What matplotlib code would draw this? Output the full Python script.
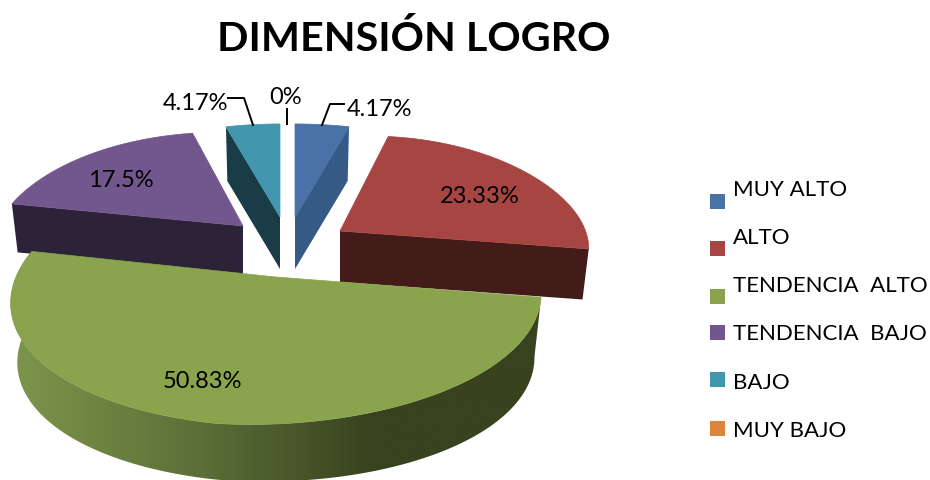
import matplotlib

matplotlib.use("Agg")

import matplotlib.pyplot as plt
import numpy as np
from matplotlib.colors import LinearSegmentedColormap
from matplotlib.patches import Polygon, Rectangle


TITLE = "DIMENSIÓN LOGRO"
CATEGORIES = ["MUY ALTO", "ALTO", "TENDENCIA  ALTO", "TENDENCIA  BAJO", "BAJO", "MUY BAJO"]
VALUES = [4.17, 23.33, 50.83, 17.5, 4.17, 0]
VALUE_LABELS = ["4.17%", "23.33%", "50.83%", "17.5%", "4.17%", "0%"]

TOP_COLORS = ["#4A71A8", "#A64541", "#8AA44E", "#71578D", "#4297AF", "#DD863B"]
SIDE_COLORS = ["#355A85", "#431B19", "#38421E", "#2D2338", "#1A3C47", "#DD863B"]

# Pie layout in pixels: exploded apex of each slice, and its horizontal and
# vertical radius. The perspective terms make the far side look smaller.
APEX_X = [295, 340, 276, 243, 280, 287]
APEX_Y = [218, 232, 278, 227, 218, 218]
RADIUS_X = [269, 240, 260, 251, 269, 269]
RADIUS_Y = [107, 112, 127, 110, 107, 107]
DEPTH = [52, 51, 60, 48, 52, 52]
PERSPECTIVE_X = [0.3, 0.3, 0.2, 0.3, 0.3, 0.3]
PERSPECTIVE_Y = 0.15
BOTTOM_SCALE = 0.975
# Rim correction, outward in the middle of a slice. The green slice instead
# pulls in on its right half only, less so on the lower rim.
RIM_BULGE = [0, 0.07, 0, 0.035, 0, 0]
GREEN_SQUEEZE_TOP = 0.04
GREEN_SQUEEZE_BOTTOM = 0.02

LABEL_X = [379, 480, 202, 121, 195, 286]
LABEL_Y = [109, 197, 382, 181, 104, 98]
LEGEND_TEXT_Y = [190, 238, 286, 334, 383, 431]
LEGEND_BOX_Y = [195, 242, 290, 326, 373, 422]

EDGES = np.radians(np.concatenate([[0], np.cumsum(VALUES)]) * 3.6)


def rim_factor(i, angles, bottom):
    t = (angles - EDGES[i]) / max(EDGES[i + 1] - EDGES[i], 1e-9)
    factor = 1 + RIM_BULGE[i] * np.sin(np.pi * t)
    if i == 2:
        squeeze = GREEN_SQUEEZE_BOTTOM if bottom else GREEN_SQUEEZE_TOP
        factor = factor - squeeze * np.sin(2 * np.pi * np.clip(t, 0, 0.5))
    return factor


def project(i, angles, bottom=False):
    """Screen position of rim points of slice i; angles clockwise from north."""
    factor = rim_factor(i, angles, bottom)
    u = np.sin(angles) * factor
    v = np.cos(angles) * factor
    scale = BOTTOM_SCALE if bottom else 1.0
    x = APEX_X[i] + scale * RADIUS_X[i] * u / (1 + PERSPECTIVE_X[i] * v)
    y = APEX_Y[i] - scale * RADIUS_Y[i] * v / (1 + PERSPECTIVE_Y * v)
    if bottom:
        y = y + DEPTH[i]
    return np.column_stack([x, y])


def slice_angles(i, n=120):
    return np.linspace(EDGES[i], EDGES[i + 1], n)


def draw_cut_face(ax, i, angle):
    top = project(i, np.array([angle]))[0]
    low = project(i, np.array([angle]), bottom=True)[0]
    apex = (APEX_X[i], APEX_Y[i])
    apex_low = (APEX_X[i], APEX_Y[i] + DEPTH[i])
    ax.add_patch(Polygon([apex, top, low, apex_low], closed=True, fc=SIDE_COLORS[i], ec="none"))


def draw_top(ax, i):
    rim = project(i, slice_angles(i))
    pts = np.vstack([[APEX_X[i], APEX_Y[i]], rim])
    ax.add_patch(Polygon(pts, closed=True, fc=TOP_COLORS[i], ec=TOP_COLORS[i], lw=0.5))


def draw_green_wall(ax, i):
    angles = slice_angles(i, 300)
    upper = project(i, angles)
    lower = project(i, angles, bottom=True)
    wall = Polygon(np.vstack([upper, lower[::-1]]), closed=True, fc="none", ec="none")
    ax.add_patch(wall)
    # Left to right shading of the outer wall.
    cmap = LinearSegmentedColormap.from_list(
        "wall",
        [(0.0, "#7D964B"), (0.17, "#6E8341"), (0.36, "#5A6E37"), (0.55, "#465428"), (0.68, "#38421E"), (1.0, "#38421E")],
    )
    grad = np.linspace(0, 1, 256).reshape(1, -1)
    img = ax.imshow(grad, cmap=cmap, extent=(10, 545, 490, 250), aspect="auto")
    img.set_clip_path(wall)


def main():
    fig = plt.figure(figsize=(9.3, 4.81), dpi=100)
    ax = fig.add_axes([0, 0, 1, 1])

    # Back slices first, the big green one goes over them.
    draw_cut_face(ax, 3, EDGES[3])
    draw_top(ax, 3)
    draw_cut_face(ax, 1, EDGES[2])
    draw_top(ax, 1)
    draw_cut_face(ax, 4, EDGES[4])
    draw_top(ax, 4)
    draw_cut_face(ax, 0, EDGES[1])
    draw_top(ax, 0)

    draw_green_wall(ax, 2)
    draw_top(ax, 2)

    # Leader lines for the thin slices.
    ax.plot([228, 244, 253], [99, 99, 126], color="black", lw=1.4)
    ax.plot([287, 287], [110, 125], color="black", lw=1.4)
    ax.plot([344, 330, 322], [105, 105, 126], color="black", lw=1.4)

    for i, label in enumerate(VALUE_LABELS):
        ax.text(LABEL_X[i], LABEL_Y[i], label, fontsize=17, family="Lato", ha="center", va="center", color="black")

    for i, name in enumerate(CATEGORIES):
        ax.add_patch(Rectangle((710, LEGEND_BOX_Y[i]), 15, 15, fc=TOP_COLORS[i], ec="none"))
        ax.text(733, LEGEND_TEXT_Y[i], name, fontsize=16, family="Lato", ha="left", va="center", color="black")

    ax.text(413.5, 51, TITLE, fontsize=29.7, family="Lato", fontweight="bold", ha="center", va="baseline", color="black")

    ax.set_xlim(0, 930)
    ax.set_ylim(481, 0)
    ax.axis("off")

    fig.savefig("out.png", dpi=100, facecolor="white")


if __name__ == "__main__":
    main()
